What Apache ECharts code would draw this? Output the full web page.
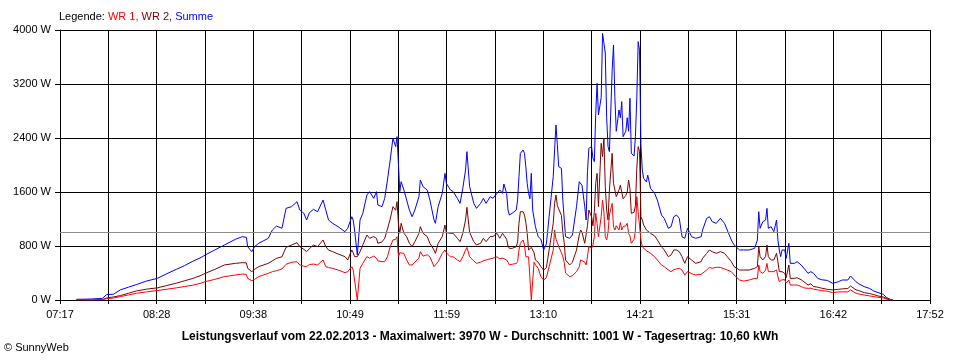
<!DOCTYPE html>
<html><head><meta charset="utf-8">
<script src="https://cdn.jsdelivr.net/npm/echarts@6/dist/echarts.min.js"></script>
<style>html,body{margin:0;padding:0;background:#fff}#c{width:960px;height:360px}</style>
</head><body><div id="c"></div>
<script>
const times = [
"07:29","07:40","07:48","07:51","07:56","08:01","08:07","08:13","08:20","08:28",
"08:35","08:42","08:48","08:54","09:00","09:03","09:10","09:17","09:25","09:30",
"09:33","09:34","09:37","09:39","09:42","09:49","09:52","09:55","09:59","10:02",
"10:06","10:10","10:12","10:15","10:17","10:19","10:22","10:25","10:29","10:31",
"10:33","10:36","10:40","10:45","10:47","10:50","10:51","10:52","10:54","10:55",
"10:56","10:58","11:01","11:03","11:06","11:08","11:09","11:12","11:14","11:16",
"11:18","11:20","11:22","11:23","11:24","11:25","11:26","11:28","11:30","11:32",
"11:34","11:36","11:39","11:40","11:42","11:45","11:47","11:50","11:51","11:53",
"11:56","11:58","11:59","12:02","12:04","12:07","12:09","12:11","12:13","12:14",
"12:16","12:19","12:21","12:24","12:26","12:28","12:31","12:33","12:36","12:38",
"12:40","12:41","12:43","12:44","12:45","12:47","12:50","12:51","12:52","12:53",
"12:55","12:56","12:57","12:58","12:59","13:00","13:01","13:02","13:03","13:04",
"13:06","13:08","13:10","13:12","13:14","13:17","13:18","13:19","13:20","13:21",
"13:23","13:24","13:25","13:26","13:29","13:31","13:34","13:36","13:37","13:38",
"13:40","13:41","13:42","13:43","13:45","13:46","13:47","13:48","13:49","13:50",
"13:52","13:53","13:54","13:55","13:56","13:57","13:58","14:00","14:01","14:02",
"14:03","14:05","14:06","14:07","14:08","14:10","14:11","14:12","14:13","14:14",
"14:16","14:17","14:18","14:19","14:20","14:21","14:22","14:23","14:25","14:26",
"14:28","14:31","14:33","14:36","14:38","14:41","14:43","14:45","14:47","14:49",
"14:51","14:53","14:55","14:58","15:01","15:05","15:06","15:09","15:11","15:13",
"15:16","15:19","15:22","15:24","15:27","15:29","15:33","15:36","15:40","15:44",
"15:46","15:47","15:48","15:50","15:52","15:53","15:54","15:56","15:58","16:00",
"16:01","16:02","16:03","16:04","16:06","16:07","16:09","16:10","16:13","16:15",
"16:18","16:20","16:23","16:25","16:27","16:30","16:33","16:37","16:41","16:45",
"16:48","16:52","16:54","16:55","16:58","17:00","17:04","17:08","17:11","17:14",
"17:18","17:20","17:23","17:25"
];
const summe = [
10,15,25,80,85,150,190,230,280,320,
390,455,510,575,630,667,741,815,899,938,
929,790,716,790,840,914,1037,1096,1062,1358,
1383,1457,1333,1284,1185,1293,1343,1308,1481,1333,
1185,1136,1086,1012,1062,1234,1185,1037,667,642,
1185,1284,1556,1605,1506,1605,1407,1383,1506,1778,
2074,2395,2272,2420,2025,1605,1753,1630,1481,1333,
1234,1333,1531,1778,1679,1630,1481,1185,1136,1383,
1580,1877,1728,1630,1605,1506,1432,1654,1926,2198,
1679,1432,1358,1432,1506,1432,1531,1506,1580,1630,
1580,1719,1580,1333,1259,1284,1333,1481,1827,2173,
2222,2173,1975,1728,1580,1500,1877,1333,1358,1086,
938,900,741,830,1234,1827,2222,2593,2300,1975,
1950,1481,1200,938,914,963,1383,1753,1778,1700,
1383,1185,1900,2247,2272,2100,2049,2741,3210,2741,
3000,3950,3970,3660,2700,2272,2198,3400,3778,3000,
2500,2815,2700,2938,2420,2500,2700,2500,2988,2173,
2133,2420,3000,3827,3700,2300,1926,1803,1750,1850,
1654,1580,1481,1259,1210,1062,1086,1234,1259,1210,
938,914,1062,938,914,938,1037,1210,1234,1160,
1136,1210,1136,1037,889,815,741,741,741,765,
889,1308,1062,1160,1185,1358,1062,1086,1012,1185,
889,741,642,740,741,617,840,543,543,568,
518,470,395,420,395,321,300,290,247,270,
296,296,356,330,270,240,198,170,133,110,
84,40,10,0
];
const wr2 = [
0,0,5,30,45,65,100,135,160,180,
215,250,285,320,365,395,454,519,543,553,
550,469,420,454,494,543,580,617,640,780,
815,849,790,750,716,760,815,790,889,790,
740,716,681,642,593,741,700,642,642,650,
716,815,963,914,940,914,840,860,914,1050,
1200,1383,1330,1457,1136,988,1136,988,938,840,
790,864,988,1086,988,940,840,740,691,840,
938,1111,1000,988,988,914,864,988,1185,1373,
1000,864,815,840,914,864,940,940,988,914,
988,960,900,800,765,765,790,860,1136,1308,
1308,1259,1150,988,741,760,780,760,700,593,
560,494,444,480,741,1136,1432,1556,1400,1350,
1250,1000,850,593,519,560,741,963,1037,1000,
840,815,1100,1333,1234,1100,1300,1728,1877,1383,
2321,2123,2395,1679,1333,1185,1630,2173,1728,1630,
1531,1630,1700,1600,1500,1550,1600,1778,1650,1284,
1300,1400,1950,2272,2200,1234,1185,1111,1037,1037,
988,950,889,790,741,642,667,741,741,716,
642,543,642,593,543,568,617,691,741,716,
691,716,691,642,568,494,444,444,444,469,
494,790,642,593,642,815,642,593,593,691,
568,420,395,420,394,330,519,320,321,330,
300,270,222,240,200,190,175,158,150,158,
165,170,207,190,150,140,109,95,80,60,
45,25,5,0
];
const wr1 = [
0,0,5,20,30,50,75,100,120,140,
160,180,200,220,250,272,306,346,370,385,
380,321,286,306,346,395,420,434,460,530,
558,568,519,500,494,525,533,519,593,494,
480,469,444,405,420,494,444,420,0,0,
470,543,642,620,650,620,580,568,568,640,
790,889,900,938,642,700,716,690,593,519,
519,560,620,716,650,670,640,494,494,568,
690,741,700,640,640,593,568,640,740,780,
640,580,543,560,580,593,610,620,640,610,
620,610,593,560,519,530,540,570,740,840,
889,815,640,640,640,620,0,0,560,519,
470,346,296,330,494,741,1037,900,850,790,
700,640,560,400,346,360,420,494,593,568,
560,519,640,790,765,815,938,1284,1136,938,
1234,1481,1300,938,889,1000,1259,1432,1086,1037,
1100,1037,1150,1037,1086,1100,1136,988,950,840,
900,1037,1531,1300,1100,889,790,765,730,716,
691,642,593,519,494,444,420,450,460,470,
444,370,420,390,370,380,400,445,484,470,
484,484,460,444,420,370,296,280,296,320,
320,519,420,395,444,543,420,420,420,444,
345,272,296,300,300,250,296,222,222,222,
200,180,173,175,160,150,138,130,109,120,
120,120,148,140,100,90,74,60,50,40,
30,15,3,0
];
const tickLabels = ["07:17","08:28","09:38","10:49","11:59","13:10","14:21","15:31","16:42","17:52"];
const seriesNames = ["WR 1", "WR 2", "Summe"];
const average = 1001;
const footerText = "Leistungsverlauf vom 22.02.2013 - Maximalwert: 3970 W - Durchschnitt: 1001 W - Tagesertrag: 10,60 kWh";
const copyright = "© SunnyWeb";

const START = 7 * 60 + 17, END = 17 * 60 + 52;
const SCALE = 18;                   // axis units per minute (18 grid steps)
const STEP = END - START;           // one grid step in axis units
const toX = t => { const p = t.split(":").map(Number); return (p[0] * 60 + p[1] - START) * SCALE; };
const pts = vals => times.map((t, i) => [toX(t), vals[i]]);
const FONT = "Liberation Sans";

const chart = echarts.init(document.getElementById("c"), null, { renderer: "canvas" });
const rs = c => ({ color: c, fontSize: 11, fontFamily: FONT, fontWeight: "normal" });
chart.setOption({
  animation: false,
  backgroundColor: "#ffffff",
  textStyle: { fontFamily: FONT },
  title: [
    {
      text: "{k|Legende: }{a|" + seriesNames[0] + ", }{b|" + seriesNames[1] + ", }{c|" + seriesNames[2] + "}",
      left: 59, top: 11, padding: 0,
      textStyle: { fontWeight: "normal", fontSize: 11, rich: {
        k: rs("#000000"), a: rs("#ff0000"), b: rs("#800000"), c: rs("#0000ff")
      } }
    },
    {
      text: footerText, left: "center", top: 331, padding: 0,
      textStyle: { fontSize: 12, fontWeight: "bold", color: "#000", fontFamily: FONT }
    },
    {
      text: copyright, left: 4, top: 342, padding: 0,
      textStyle: { fontSize: 11, fontWeight: "normal", color: "#000", fontFamily: FONT }
    }
  ],
  grid: { left: 60, right: 30, top: 30, bottom: 60 },
  xAxis: {
    type: "value", min: 0, max: STEP * SCALE, interval: STEP,
    axisLine: { lineStyle: { color: "#000", width: 1 } },
    axisTick: { show: true, length: 4, lineStyle: { color: "#000" } },
    axisLabel: {
      margin: 9, color: "#000", fontSize: 11, fontFamily: FONT,
      showMinLabel: true, showMaxLabel: true, hideOverlap: false,
      formatter: v => { const i = Math.round(v / STEP); return i % 2 ? "" : tickLabels[i / 2]; }
    },
    splitLine: { show: true, lineStyle: { color: "#000", width: 1 } }
  },
  yAxis: {
    type: "value", min: 0, max: 4000, interval: 800,
    axisLine: { show: true, lineStyle: { color: "#000", width: 1 } },
    axisTick: { show: true, length: 5, lineStyle: { color: "#000" } },
    axisLabel: { margin: 9, color: "#000", fontSize: 11, fontFamily: FONT, formatter: v => v + " W" },
    splitLine: { show: true, lineStyle: { color: "#000", width: 1 } }
  },
  series: [
    {
      name: seriesNames[2], type: "line", data: pts(summe), showSymbol: false,
      lineStyle: { color: "#0000ff", width: 1 }, itemStyle: { color: "#0000ff" },
      markLine: {
        silent: true, symbol: "none", label: { show: false },
        lineStyle: { color: "#8c8c8c", type: "solid", width: 1 },
        data: [{ yAxis: average }]
      }
    },
    {
      name: seriesNames[1], type: "line", data: pts(wr2), showSymbol: false,
      lineStyle: { color: "#800000", width: 1 }, itemStyle: { color: "#800000" }
    },
    {
      name: seriesNames[0], type: "line", data: pts(wr1), showSymbol: false,
      lineStyle: { color: "#ff0000", width: 1 }, itemStyle: { color: "#ff0000" }
    }
  ]
});
</script>
</body></html>
